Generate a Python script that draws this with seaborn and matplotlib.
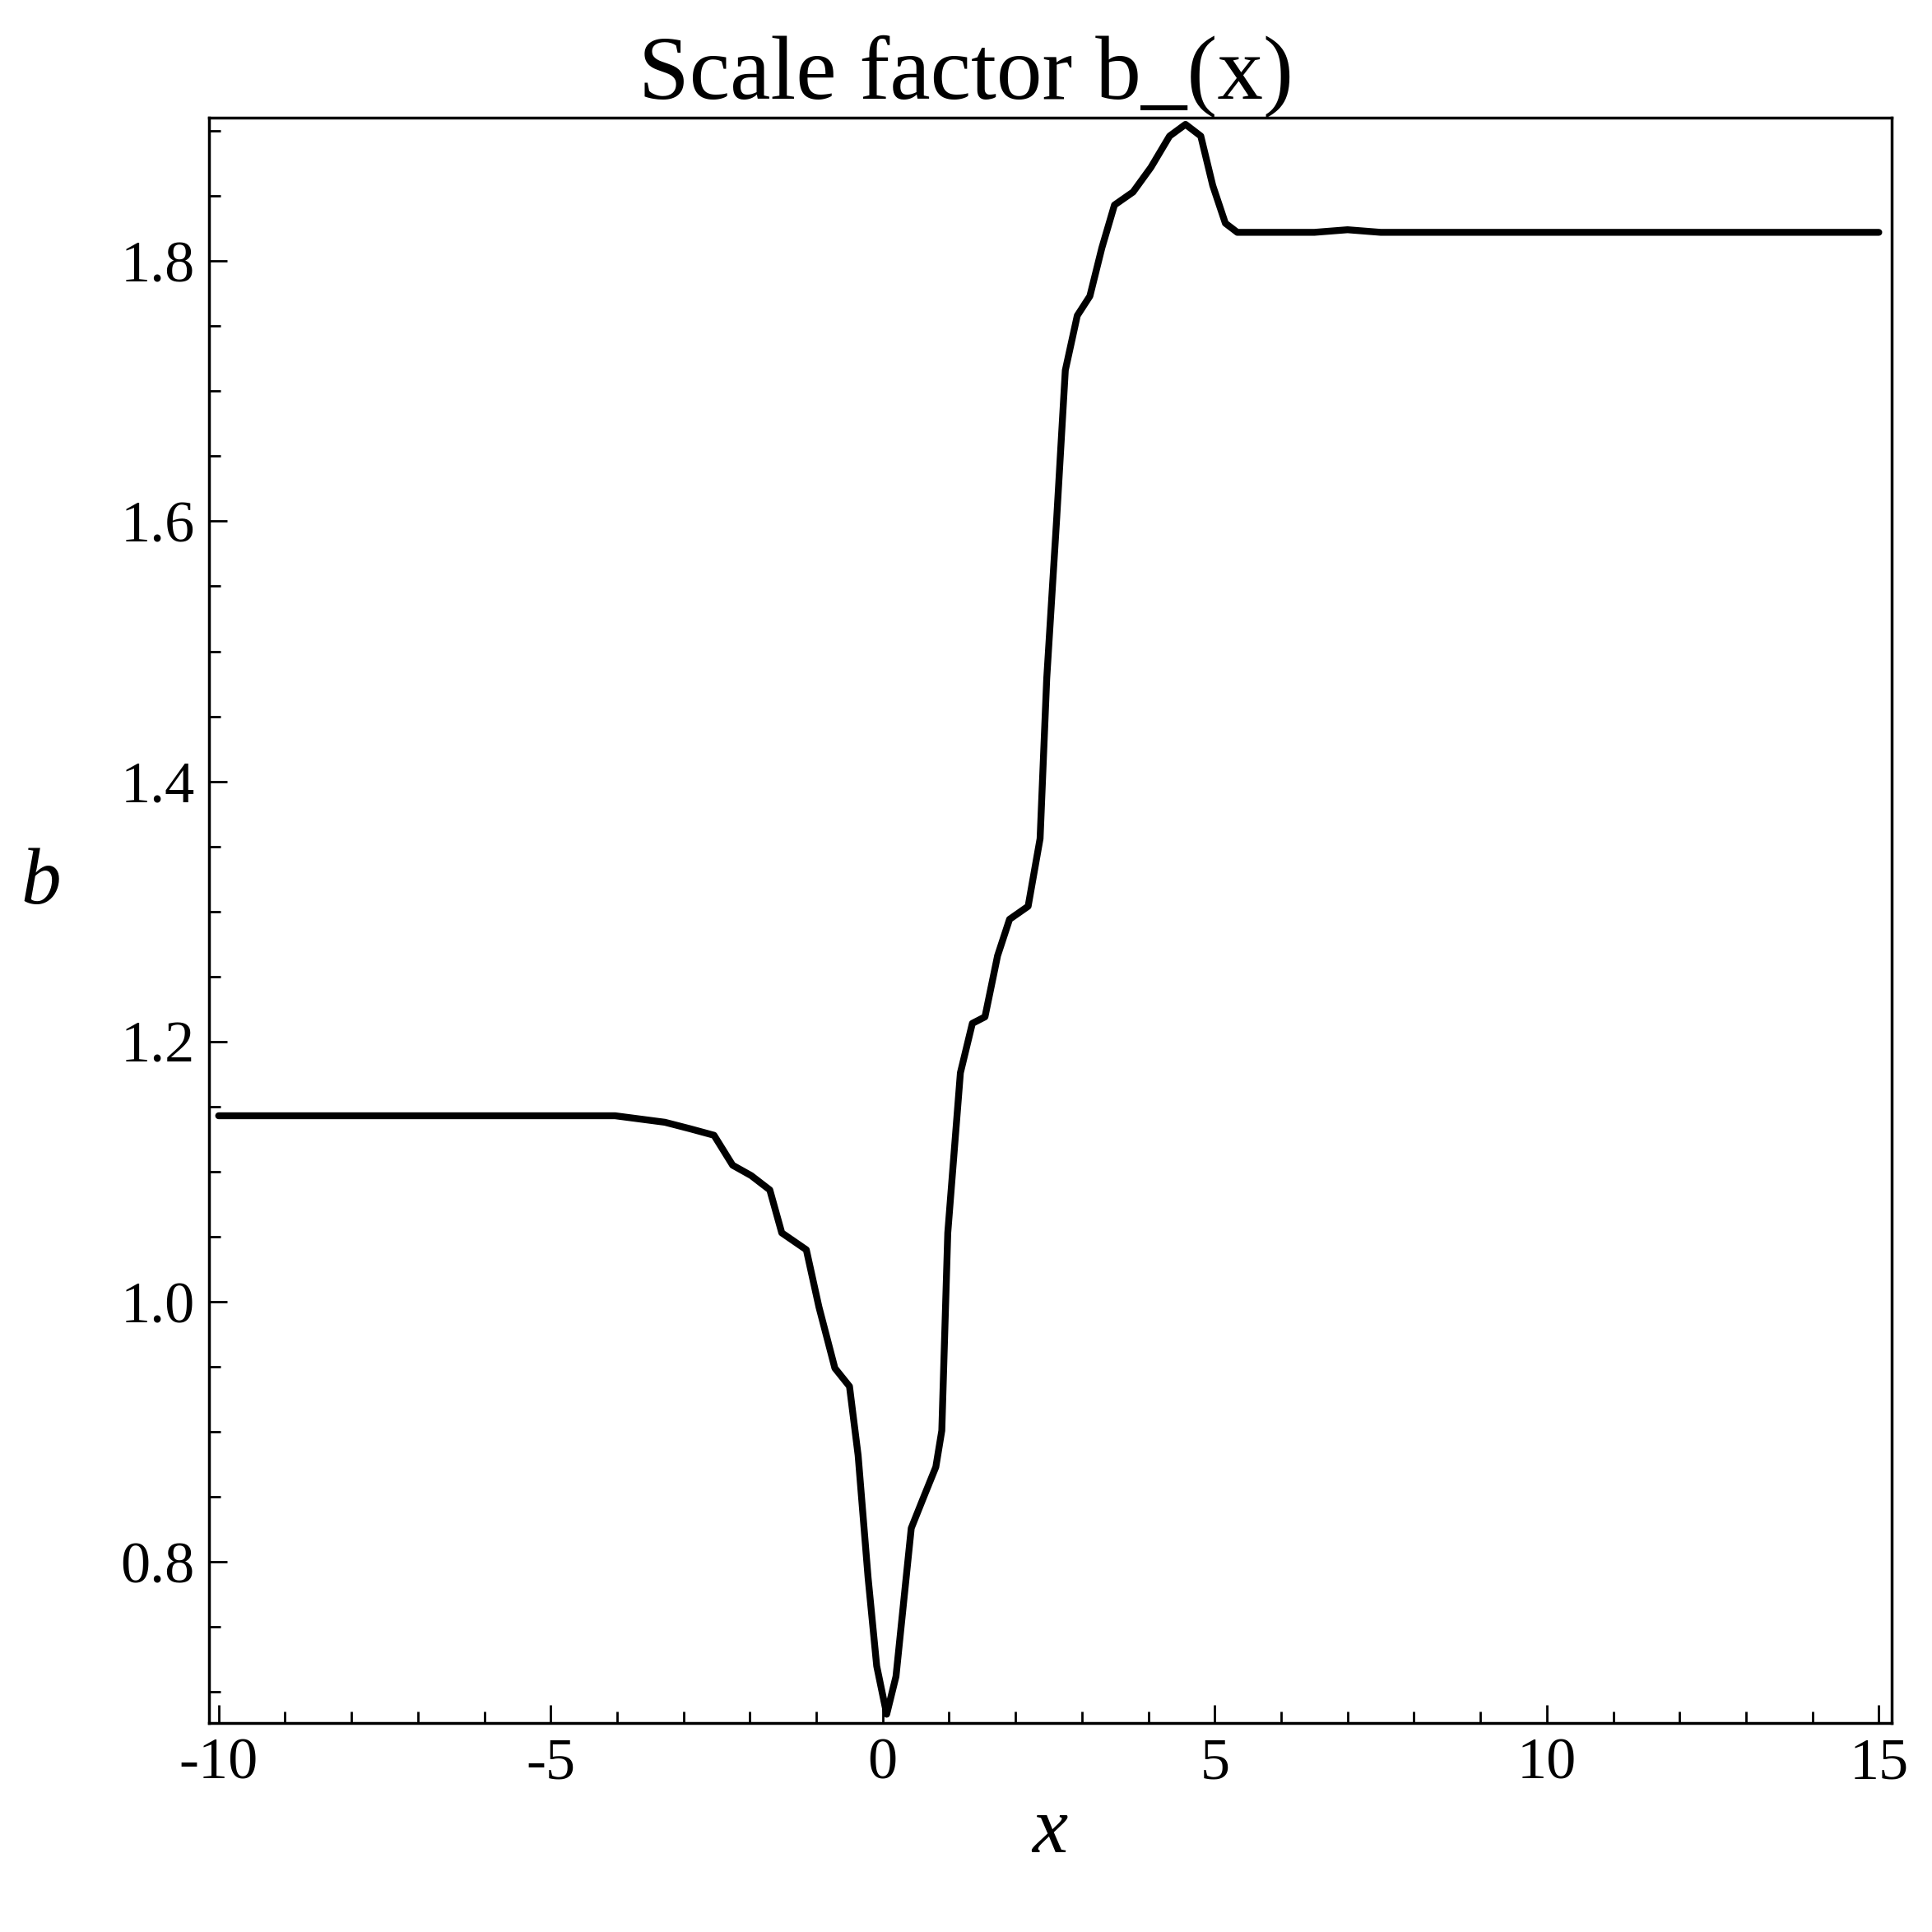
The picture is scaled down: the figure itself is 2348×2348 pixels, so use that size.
import matplotlib
matplotlib.use("Agg")
import matplotlib.pyplot as plt
import seaborn as sns
import pandas as pd
from matplotlib.ticker import MultipleLocator

x_vals = [-10, -6, -4.03, -3.28, -2.9, -2.54, -2.26, -1.98, -1.7, -1.52, -1.15, -0.96, -0.72, -0.5, -0.37,
          -0.22, -0.09, 0.06, 0.2, 0.43, 0.61, 0.8, 0.89, 0.98, 1.17, 1.35, 1.54, 1.73, 1.91, 2.19, 2.37,
          2.47, 2.62, 2.75, 2.93, 3.12, 3.3, 3.49, 3.77, 4.04, 4.32, 4.56, 4.79, 4.97, 5.16, 5.34, 6.5, 7.0,
          7.5, 10, 15]
b_vals = [1.143, 1.143, 1.143, 1.138, 1.133, 1.128, 1.105, 1.097, 1.086, 1.053, 1.04, 0.996, 0.949, 0.935, 0.882,
          0.788, 0.72, 0.683, 0.712, 0.826, 0.849, 0.873, 0.901, 1.053, 1.176, 1.214, 1.219, 1.266, 1.294, 1.304, 1.356,
          1.479, 1.602, 1.716, 1.758, 1.773, 1.81, 1.843, 1.853, 1.872, 1.896, 1.905, 1.896, 1.858, 1.829, 1.822, 1.822, 1.824,
          1.822, 1.822, 1.822]

sns.set_style("white")
plt.rcParams['font.family'] = ['Liberation Serif', 'DejaVu Serif']
plt.rcParams['text.color'] = 'black'
plt.rcParams['axes.labelcolor'] = 'black'
fig = plt.figure(figsize=(23.48, 23.48), dpi=100)
ax = fig.add_axes([0.108, 0.108, 0.871, 0.831])
df = pd.DataFrame({"x": x_vals, "b": b_vals})
sns.lineplot(data=df, x="x", y="b", ax=ax, color="black", linewidth=6, sort=False)
ax.set_xlim(-10.15, 15.19)
ax.set_ylim(0.676, 1.91)
ax.xaxis.set_major_locator(MultipleLocator(5))
ax.xaxis.set_minor_locator(MultipleLocator(1))
ax.yaxis.set_major_locator(MultipleLocator(0.2))
ax.yaxis.set_minor_locator(MultipleLocator(0.05))
ax.tick_params(which="both", direction="in", colors="black", labelsize=52, width=2,
               bottom=True, left=True, top=False, right=False)
ax.tick_params(which="major", length=16, pad=12)
ax.tick_params(which="minor", length=10)
ax.set_xticks([-10, -5, 0, 5, 10, 15])
ax.set_xticklabels(["-10", "-5", "0", "5", "10", "15"])
for s in ax.spines.values():
    s.set_color("black"); s.set_linewidth(2.5)
ax.set_title("Scale factor b_(x)", fontsize=80, pad=4, x=0.45)
ax.set_xlabel("x", fontsize=70, style="italic", labelpad=5)
ax.set_ylabel("b", fontsize=70, style="italic", rotation=0, labelpad=70)
fig.savefig("out.png", dpi=100, facecolor="white")
